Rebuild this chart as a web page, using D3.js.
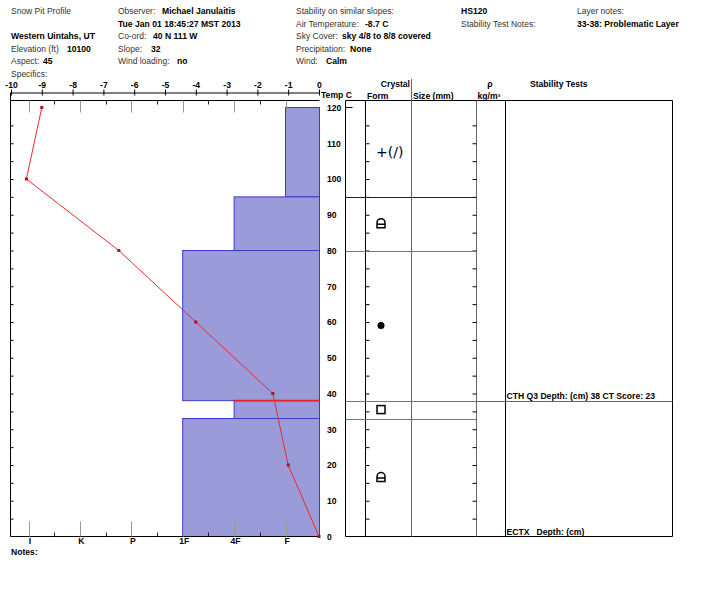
<!DOCTYPE html>
<html>
<head>
<meta charset="utf-8">
<script src="https://cdn.jsdelivr.net/npm/d3@7"></script>
<style>
  body { margin: 0; background: #fff; }
  text { font-family: "Liberation Sans", Arial, sans-serif; }
  .lbl { font-size: 8.5px; fill: #333; }
  .val { font-size: 8.6px; font-weight: bold; fill: #000; }
</style>
</head>
<body>
<svg id="chart" width="710" height="600"></svg>
<script>
// ── Data ─────────────────────────────────────────────────────────────────
const tempDepths = [120, 100, 80, 60, 40, 20, 0];
const temps      = [-9, -9.5, -6.5, -4, -1.5, -1, 0];

const layerTops    = [120, 95, 80, 38, 33];
const layerBottoms = [95, 80, 38, 33, 0];
const layerHard    = ['F', '4F', '1F', '4F', '1F'];
const layerForms   = ['PPDF', 'FCxr', 'RG', 'FC', 'FCxr'];
const problemLayer = [false, false, false, true, false];

const hardLabels = ['I', 'K', 'P', '1F', '4F', 'F'];
const hardValues = [6, 5, 4, 3, 2, 1];

const tempTicks  = d3.range(-10, 1);
const depthTicks = d3.range(0, 121, 10);

const testTexts  = ['CTH Q3 Depth: (cm) 38 CT Score: 23', 'ECTX   Depth: (cm)'];
const testDepths = [38, 0];

// header: [x, baseline, label, x of value, value]
const header = [
  [11, 14, 'Snow Pit Profile', 0, ''],
  [11, 39, '', 11, 'Western Uintahs, UT'],
  [11, 51.5, 'Elevation (ft)', 67, '10100'],
  [11, 64, 'Aspect:', 43, '45'],
  [11, 76.5, 'Specifics:', 0, ''],
  [118, 14, 'Observer:', 162, 'Michael Janulaitis'],
  [118, 26.5, '', 118, 'Tue Jan 01 18:45:27 MST 2013'],
  [118, 39, 'Co-ord:', 153, '40 N 111 W'],
  [118, 51.5, 'Slope:', 151, '32'],
  [118, 64, 'Wind loading:', 177, 'no'],
  [296, 14, 'Stability on similar slopes:', 0, ''],
  [296, 26.5, 'Air Temperature:', 365, '-8.7 C'],
  [296, 39, 'Sky Cover:', 342, 'sky 4/8 to 8/8 covered'],
  [296, 51.5, 'Precipitation:', 350, 'None'],
  [296, 64, 'Wind:', 326, 'Calm'],
  [461, 14, '', 461, 'HS120'],
  [461, 26.5, 'Stability Test Notes:', 0, ''],
  [577, 14, 'Layer notes:', 0, ''],
  [577, 26.5, '', 577, '33-38: Problematic Layer'],
];

// ── Layout ───────────────────────────────────────────────────────────────
const L = 10.5, R = 319.5, T = 100.5, B = 536.5;
const AX = 92.5;                         // temperature axis line
const C0 = 345.5, CF = 365.5, CS = 411.5, CR = 476.5, CT = 505.5, CE = 672.5;

const svg = d3.select('#chart');
const y  = d3.scaleLinear().domain([0, 120]).range([B, 107.5]);
const xT = d3.scaleLinear().domain([-10, 0]).range([11, 319]);
const xH = d3.scaleLinear().domain([6, 1]).range([28.5, 285.5]);
const hardIdx = h => hardValues[hardLabels.indexOf(h)];
const FONT = '"Liberation Sans", Arial, sans-serif';

// ── Header texts ─────────────────────────────────────────────────────────
header.forEach(([x, by, lab, vx, val]) => {
  if (lab) svg.append('text').attr('class', 'lbl').attr('x', x).attr('y', by).text(lab);
  if (val) svg.append('text').attr('class', 'val').attr('x', vx).attr('y', by).text(val);
});

// ── Hardness bars ────────────────────────────────────────────────────────
const layers = layerTops.map((t, i) => ({
  top: t, bot: layerBottoms[i], hard: layerHard[i], form: layerForms[i], prob: problemLayer[i]
}));

svg.append('g').selectAll('rect')
  .data(layers).join('rect')
  .attr('x', d => xH(hardIdx(d.hard)))
  .attr('y', d => y(d.top))
  .attr('width', d => R - xH(hardIdx(d.hard)))
  .attr('height', d => y(d.bot) - y(d.top))
  .attr('fill', '#9c9bd9')
  .attr('stroke', '#3a3acc')
  .attr('stroke-width', 1);

svg.append('g').selectAll('line')
  .data(layers.filter(d => d.prob)).join('line')
  .attr('x1', d => xH(hardIdx(d.hard))).attr('x2', R + 0.5)
  .attr('y1', d => y(d.top)).attr('y2', d => y(d.top))
  .attr('stroke', '#e8202a').attr('stroke-width', 1.6);

// ── Left plot frame ──────────────────────────────────────────────────────
const frame = svg.append('g').attr('stroke', '#000').attr('stroke-width', 1);
frame.append('line').attr('x1', L).attr('x2', L).attr('y1', AX).attr('y2', B);
frame.append('line').attr('x1', L).attr('x2', R).attr('y1', T).attr('y2', T);
frame.append('line').attr('x1', L).attr('x2', R).attr('y1', B).attr('y2', B);

// temperature axis (ticks cross the line)
const tAxis = svg.append('g').attr('transform', `translate(0,${AX})`)
  .call(d3.axisTop(xT).tickValues(tempTicks).tickFormat(d => String(d))
    .tickSizeInner(3).tickSizeOuter(0).tickPadding(2));
tAxis.select('.domain').attr('stroke', '#000');
tAxis.selectAll('.tick line').attr('y2', -3).attr('y1', 3).attr('stroke', '#000');
tAxis.selectAll('.tick text').attr('class', 'val').attr('fill', '#000').style('font-family', FONT);
svg.append('text').attr('class', 'val').attr('x', 321).attr('y', 97.5).text('Temp C');

// hardness ticks top and bottom
const hTicks = d3.range(6, 0.9, -0.5);
const isMajor = v => Number.isInteger(v);
svg.append('g').selectAll('line')
  .data(hTicks).join('line')
  .attr('x1', d => Math.round(xH(d)) + 0.5).attr('x2', d => Math.round(xH(d)) + 0.5)
  .attr('y1', T).attr('y2', d => isMajor(d) ? T + 12 : T + 4)
  .attr('stroke', d => isMajor(d) ? '#999' : '#222');
svg.append('g').selectAll('line')
  .data(hTicks).join('line')
  .attr('x1', d => Math.round(xH(d)) + 0.5).attr('x2', d => Math.round(xH(d)) + 0.5)
  .attr('y1', B).attr('y2', d => isMajor(d) ? B - 15 : B - 4)
  .attr('stroke', d => isMajor(d) ? '#999' : '#222');

const hAxis = svg.append('g').attr('transform', `translate(1,${B})`)
  .call(d3.axisBottom(xH).tickValues(hardValues)
    .tickFormat(v => hardLabels[hardValues.indexOf(v)]).tickSize(0).tickPadding(1.5));
hAxis.select('.domain').remove();
hAxis.selectAll('.tick text').attr('class', 'val').attr('fill', '#000').style('font-family', FONT);

svg.append('text').attr('class', 'val').attr('x', 11).attr('y', 554.5).text('Notes:');

// depth ticks on the left frame
const dTicks = d3.range(5, 120, 5);
svg.append('g').attr('transform', `translate(${L},0)`)
  .call(d3.axisRight(y).tickValues(dTicks).tickSize(3).tickFormat(''))
  .call(g => g.select('.domain').remove())
  .selectAll('line').attr('stroke', '#000');

// ── Temperature profile ──────────────────────────────────────────────────
const tempPts = tempDepths.map((d, i) => ({ depth: d, t: temps[i] }));
svg.append('path')
  .datum(tempPts)
  .attr('fill', 'none')
  .attr('stroke', '#ea2a2a')
  .attr('stroke-width', 1)
  .attr('d', d3.line().x(d => xT(d.t)).y(d => y(d.depth)));
svg.append('g').selectAll('rect')
  .data(tempPts).join('rect')
  .attr('x', d => xT(d.t) - 1.5).attr('y', d => y(d.depth) - 1.5)
  .attr('width', 3).attr('height', 3)
  .attr('fill', '#b0101a');

// ── Depth labels ─────────────────────────────────────────────────────────
const dAxis = svg.append('g').attr('transform', 'translate(327,0)')
  .call(d3.axisRight(y).tickValues(depthTicks).tickSize(0).tickPadding(0));
dAxis.select('.domain').remove();
dAxis.selectAll('.tick text').attr('class', 'val').attr('fill', '#000').style('font-family', FONT);
svg.append('line').attr('x1', C0).attr('x2', C0 + 7)
  .attr('y1', y(120)).attr('y2', y(120)).attr('stroke', '#000');

// ── Crystal / density / stability frame ─────────────────────────────────
const cf = svg.append('g').attr('stroke', '#000').attr('stroke-width', 1);
cf.append('line').attr('x1', C0).attr('x2', CE).attr('y1', T).attr('y2', T);
cf.append('line').attr('x1', C0).attr('x2', CE).attr('y1', B).attr('y2', B);
[C0, CF, CT, CE].forEach(x => cf.append('line').attr('x1', x).attr('x2', x).attr('y1', T).attr('y2', B));
cf.append('line').attr('x1', CS).attr('x2', CS).attr('y1', 79).attr('y2', B).attr('stroke', '#666');
cf.append('line').attr('x1', CR).attr('x2', CR).attr('y1', T).attr('y2', B).attr('stroke', '#666');

svg.append('g').attr('transform', `translate(${CF},0)`)
  .call(d3.axisRight(y).tickValues(dTicks).tickSize(4).tickFormat(''))
  .call(g => g.select('.domain').remove())
  .selectAll('line').attr('stroke', '#000');
svg.append('g').attr('transform', `translate(${CR},0)`)
  .call(d3.axisLeft(y).tickValues(dTicks).tickSize(4).tickFormat(''))
  .call(g => g.select('.domain').remove())
  .selectAll('line').attr('stroke', '#000');

// layer boundaries
const bounds = layerBottoms.filter(d => d > 0);
svg.append('g').selectAll('line')
  .data(bounds).join('line')
  .attr('x1', C0).attr('x2', CR)
  .attr('y1', d => Math.round(y(d)) + 0.5).attr('y2', d => Math.round(y(d)) + 0.5)
  .attr('stroke', (d, i) => i === 0 ? '#222' : '#777');

// column headers
svg.append('text').attr('class', 'val').attr('x', 410).attr('y', 87)
  .attr('text-anchor', 'end').text('Crystal');
svg.append('text').attr('class', 'val').attr('x', 367).attr('y', 98.5).text('Form');
svg.append('text').attr('class', 'val').attr('x', 413).attr('y', 98.5).text('Size (mm)');
svg.append('text').attr('class', 'val').attr('x', 490).attr('y', 87)
  .attr('text-anchor', 'middle').text('ρ');
svg.append('text').attr('class', 'val').attr('x', 489).attr('y', 98.5)
  .attr('text-anchor', 'middle').text('kg/m³');
svg.append('text').attr('class', 'val').attr('x', 530).attr('y', 87).text('Stability Tests');

// ── Grain form symbols ──────────────────────────────────────────────────
const symX = 381;
const sym = svg.append('g').attr('fill', 'none').attr('stroke', '#000').attr('stroke-width', 1.5);
layers.forEach(d => {
  const cy = y((d.top + d.bot) / 2);
  if (d.form === 'PPDF') {
    svg.append('text').attr('x', 376).attr('y', cy + 5)
      .style('font-family', '"DejaVu Sans", sans-serif').style('font-size', '14px')
      .attr('fill', '#000').text('+(/)');
  } else if (d.form === 'FCxr') {
    sym.append('path').attr('d',
      `M${symX - 4},${cy + 4}V${cy - 1}A4,4 0 0 1 ${symX + 4},${cy - 1}V${cy + 4}Z` +
      `M${symX - 4},${cy + 0.5}H${symX + 4}`);
  } else if (d.form === 'RG') {
    svg.append('circle').attr('cx', symX).attr('cy', cy).attr('r', 3.5).attr('fill', '#000');
  } else if (d.form === 'FC') {
    sym.append('rect').attr('x', symX - 4).attr('y', cy - 4).attr('width', 8).attr('height', 8);
  }
});

// ── Stability tests ─────────────────────────────────────────────────────
svg.append('g').selectAll('line')
  .data(testDepths.filter(d => d > 0)).join('line')
  .attr('x1', CR).attr('x2', CE)
  .attr('y1', d => Math.round(y(d)) + 0.5).attr('y2', d => Math.round(y(d)) + 0.5)
  .attr('stroke', '#666');
svg.append('g').selectAll('text')
  .data(testTexts).join('text')
  .attr('class', 'val')
  .attr('x', CT + 1)
  .attr('y', (d, i) => y(testDepths[i]) - 2)
  .style('white-space', 'pre')
  .text(d => d);
</script>
</body>
</html>
